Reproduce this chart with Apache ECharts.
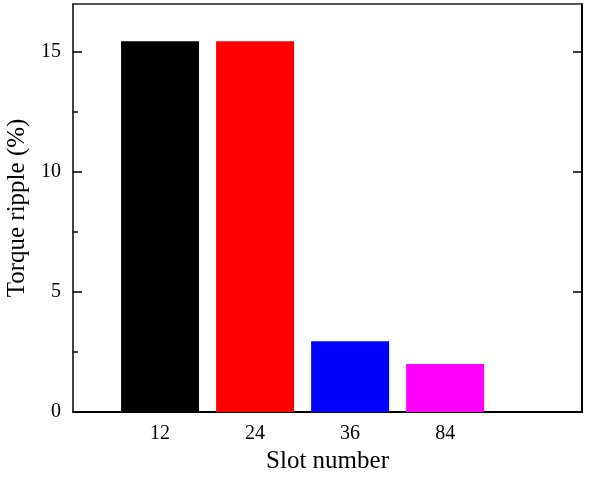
<!DOCTYPE html>
<html>
<head>
<meta charset="utf-8">
<script src="https://cdn.jsdelivr.net/npm/echarts@6/dist/echarts.min.js"></script>
<style>
  html, body { margin: 0; padding: 0; background: #fff; }
  #chart { width: 590px; height: 478px; }
</style>
</head>
<body>
<div id="chart"></div>
<script>
// Torque ripple for each stator slot count
const slotNumbers = ['12', '24', '36', '84'];
const torqueRipple = [15.45, 15.45, 2.95, 2.0];
const barColors = ['#000000', '#ff0000', '#0000ff', '#ff00ff'];
const yTicks = [0, 5, 10, 15];
const yMinorTicks = [2.5, 7.5, 12.5];

const font = 'Liberation Serif, Times New Roman, serif';
const xMin = 0.084, xMax = 5.44;
const yMax = 17;
const positions = slotNumbers.map((_, i) => i + 1);

const chart = echarts.init(document.getElementById('chart'));
chart.setOption({
  animation: false,
  backgroundColor: '#ffffff',
  grid: { left: 73, right: 8, top: 4, bottom: 66, containLabel: false, outerBoundsMode: 'none' },
  xAxis: [
    {
      type: 'value', position: 'bottom', min: xMin, max: xMax,
      splitLine: { show: false },
      axisLine: { show: true, onZero: false, lineStyle: { color: '#000', width: 2 } },
      axisTick: { show: false },
      axisLabel: {
        customValues: positions,
        formatter: v => slotNumbers[Math.round(v) - 1] || '',
        color: '#000', fontFamily: font, fontSize: 20, margin: 12
      },
      name: 'Slot number', nameLocation: 'middle', nameGap: 36,
      nameTextStyle: { color: '#000', fontFamily: font, fontSize: 25 }
    },
    {
      type: 'value', position: 'top', min: xMin, max: xMax,
      splitLine: { show: false },
      axisLine: { show: true, onZero: false, lineStyle: { color: '#222', width: 1.5 } },
      axisTick: { show: false }, axisLabel: { show: false }
    }
  ],
  yAxis: [
    {
      type: 'value', position: 'left', min: 0, max: yMax, interval: 5,
      splitLine: { show: false },
      axisLine: { show: true, lineStyle: { color: '#000', width: 1.5 } },
      axisTick: { show: true, inside: true, length: 9, customValues: yTicks, lineStyle: { color: '#000', width: 1.5 } },
      axisLabel: { customValues: yTicks, color: '#000', fontFamily: font, fontSize: 20, margin: 12 },
      name: 'Torque ripple (%)', nameLocation: 'middle', nameGap: 34,
      nameTextStyle: { color: '#000', fontFamily: font, fontSize: 25 }
    },
    {
      type: 'value', position: 'right', min: 0, max: yMax, interval: 5,
      splitLine: { show: false },
      axisLine: { show: true, lineStyle: { color: '#000', width: 2 } },
      axisTick: { show: true, inside: true, length: 9, customValues: yTicks, lineStyle: { color: '#000', width: 1.5 } },
      axisLabel: { show: false }
    },
    {
      // short minor ticks on the left edge
      type: 'value', position: 'left', min: 0, max: yMax, interval: 2.5,
      splitLine: { show: false },
      axisLine: { show: false },
      axisTick: { show: true, inside: true, length: 5, customValues: yMinorTicks, lineStyle: { color: '#000', width: 1.5 } },
      axisLabel: { show: false }
    }
  ],
  series: [{
    type: 'bar',
    xAxisIndex: 0, yAxisIndex: 0,
    barWidth: 78,
    data: torqueRipple.map((v, i) => ({
      value: [positions[i], v],
      itemStyle: { color: barColors[i] }
    }))
  }]
});
</script>
</body>
</html>
